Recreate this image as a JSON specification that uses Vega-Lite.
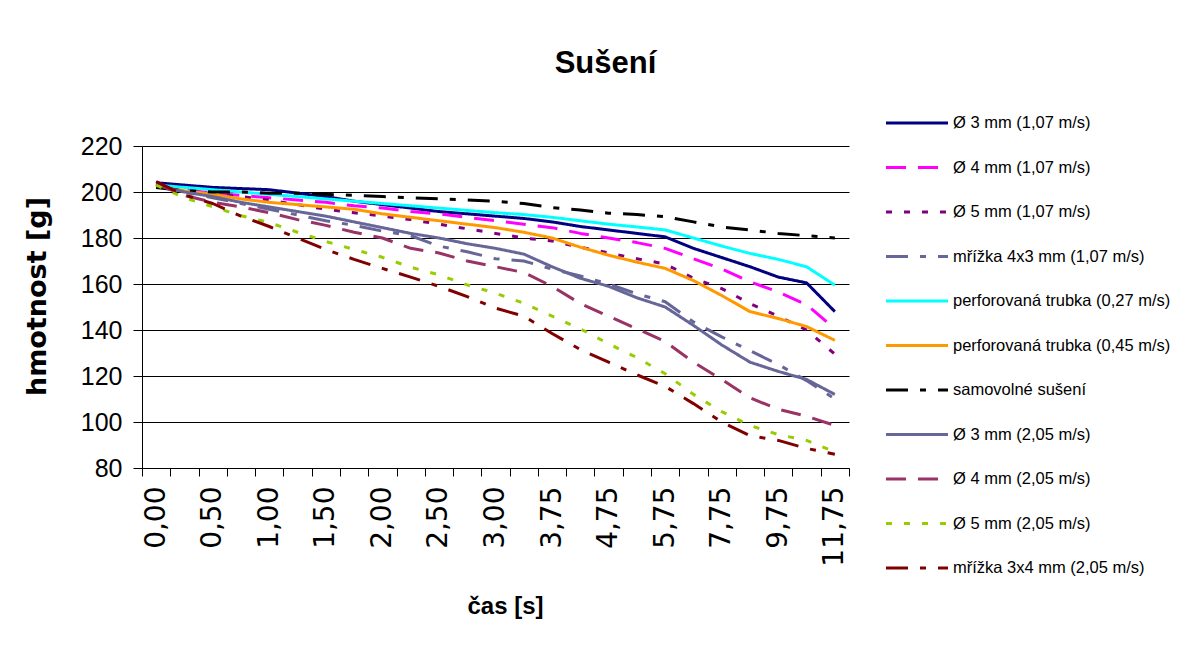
{
"$schema":"https://vega.github.io/schema/vega-lite/v6.json",
"autosize":{"type":"none"},
"width":707,"height":322,
"padding":{"left":142,"top":146,"right":339,"bottom":178},
"background":"white",
"title":{"text":"Sušení","font":"Liberation Sans","fontSize":31,"fontWeight":"bold","anchor":"middle","frame":"group","dx":110,"offset":31,"color":"#000"},
"config":{"view":{"stroke":null},
"legend":{"orient":"none","legendX":763,"legendY":-35,"title":null,"symbolType":"M-3,0H3","symbolSize":427,"symbolStrokeWidth":3,"labelFont":"Liberation Sans","labelFontSize":16.5,"labelColor":"#000","labelOffset":24,"rowPadding":23.5,"padding":0,"symbolLimit":0,"labelLimit":400}},
"data":{"values":[
{"t":"0,00","s":"Ø 3 mm (1,07 m/s)","v":204},{"t":"0,25","s":"Ø 3 mm (1,07 m/s)","v":203},{"t":"0,50","s":"Ø 3 mm (1,07 m/s)","v":202},{"t":"0,75","s":"Ø 3 mm (1,07 m/s)","v":201.5},{"t":"1,00","s":"Ø 3 mm (1,07 m/s)","v":201},{"t":"1,25","s":"Ø 3 mm (1,07 m/s)","v":199.5},{"t":"1,50","s":"Ø 3 mm (1,07 m/s)","v":198},{"t":"1,75","s":"Ø 3 mm (1,07 m/s)","v":196},{"t":"2,00","s":"Ø 3 mm (1,07 m/s)","v":194.5},{"t":"2,25","s":"Ø 3 mm (1,07 m/s)","v":193},{"t":"2,50","s":"Ø 3 mm (1,07 m/s)","v":191.5},{"t":"2,75","s":"Ø 3 mm (1,07 m/s)","v":190.5},{"t":"3,00","s":"Ø 3 mm (1,07 m/s)","v":189.5},{"t":"3,25","s":"Ø 3 mm (1,07 m/s)","v":188.5},{"t":"3,75","s":"Ø 3 mm (1,07 m/s)","v":187},{"t":"4,25","s":"Ø 3 mm (1,07 m/s)","v":185},{"t":"4,75","s":"Ø 3 mm (1,07 m/s)","v":183.5},{"t":"5,25","s":"Ø 3 mm (1,07 m/s)","v":182},{"t":"5,75","s":"Ø 3 mm (1,07 m/s)","v":180.5},{"t":"6,75","s":"Ø 3 mm (1,07 m/s)","v":175.5},{"t":"7,75","s":"Ø 3 mm (1,07 m/s)","v":171.5},{"t":"8,75","s":"Ø 3 mm (1,07 m/s)","v":167.5},{"t":"9,75","s":"Ø 3 mm (1,07 m/s)","v":163},{"t":"10,75","s":"Ø 3 mm (1,07 m/s)","v":160.5},{"t":"11,75","s":"Ø 3 mm (1,07 m/s)","v":148},
{"t":"0,00","s":"Ø 4 mm (1,07 m/s)","v":203.5},{"t":"0,25","s":"Ø 4 mm (1,07 m/s)","v":201},{"t":"0,50","s":"Ø 4 mm (1,07 m/s)","v":199.5},{"t":"0,75","s":"Ø 4 mm (1,07 m/s)","v":198.5},{"t":"1,00","s":"Ø 4 mm (1,07 m/s)","v":197.5},{"t":"1,25","s":"Ø 4 mm (1,07 m/s)","v":196.5},{"t":"1,50","s":"Ø 4 mm (1,07 m/s)","v":195.5},{"t":"1,75","s":"Ø 4 mm (1,07 m/s)","v":194},{"t":"2,00","s":"Ø 4 mm (1,07 m/s)","v":193},{"t":"2,25","s":"Ø 4 mm (1,07 m/s)","v":191.5},{"t":"2,50","s":"Ø 4 mm (1,07 m/s)","v":190.5},{"t":"2,75","s":"Ø 4 mm (1,07 m/s)","v":189},{"t":"3,00","s":"Ø 4 mm (1,07 m/s)","v":187.5},{"t":"3,25","s":"Ø 4 mm (1,07 m/s)","v":186},{"t":"3,75","s":"Ø 4 mm (1,07 m/s)","v":184.5},{"t":"4,25","s":"Ø 4 mm (1,07 m/s)","v":182},{"t":"4,75","s":"Ø 4 mm (1,07 m/s)","v":180},{"t":"5,25","s":"Ø 4 mm (1,07 m/s)","v":178},{"t":"5,75","s":"Ø 4 mm (1,07 m/s)","v":175.5},{"t":"6,75","s":"Ø 4 mm (1,07 m/s)","v":171},{"t":"7,75","s":"Ø 4 mm (1,07 m/s)","v":166.5},{"t":"8,75","s":"Ø 4 mm (1,07 m/s)","v":161},{"t":"9,75","s":"Ø 4 mm (1,07 m/s)","v":156.5},{"t":"10,75","s":"Ø 4 mm (1,07 m/s)","v":151},{"t":"11,75","s":"Ø 4 mm (1,07 m/s)","v":140.5},
{"t":"0,00","s":"Ø 5 mm (1,07 m/s)","v":204},{"t":"0,25","s":"Ø 5 mm (1,07 m/s)","v":201.5},{"t":"0,50","s":"Ø 5 mm (1,07 m/s)","v":199.5},{"t":"0,75","s":"Ø 5 mm (1,07 m/s)","v":198},{"t":"1,00","s":"Ø 5 mm (1,07 m/s)","v":196.5},{"t":"1,25","s":"Ø 5 mm (1,07 m/s)","v":194.5},{"t":"1,50","s":"Ø 5 mm (1,07 m/s)","v":192.5},{"t":"1,75","s":"Ø 5 mm (1,07 m/s)","v":191},{"t":"2,00","s":"Ø 5 mm (1,07 m/s)","v":189.5},{"t":"2,25","s":"Ø 5 mm (1,07 m/s)","v":188},{"t":"2,50","s":"Ø 5 mm (1,07 m/s)","v":186},{"t":"2,75","s":"Ø 5 mm (1,07 m/s)","v":184},{"t":"3,00","s":"Ø 5 mm (1,07 m/s)","v":182},{"t":"3,25","s":"Ø 5 mm (1,07 m/s)","v":180},{"t":"3,75","s":"Ø 5 mm (1,07 m/s)","v":178.7},{"t":"4,25","s":"Ø 5 mm (1,07 m/s)","v":176},{"t":"4,75","s":"Ø 5 mm (1,07 m/s)","v":173.5},{"t":"5,25","s":"Ø 5 mm (1,07 m/s)","v":171},{"t":"5,75","s":"Ø 5 mm (1,07 m/s)","v":168.7},{"t":"6,75","s":"Ø 5 mm (1,07 m/s)","v":162.5},{"t":"7,75","s":"Ø 5 mm (1,07 m/s)","v":158},{"t":"8,75","s":"Ø 5 mm (1,07 m/s)","v":151.5},{"t":"9,75","s":"Ø 5 mm (1,07 m/s)","v":146},{"t":"10,75","s":"Ø 5 mm (1,07 m/s)","v":140},{"t":"11,75","s":"Ø 5 mm (1,07 m/s)","v":129.5},
{"t":"0,00","s":"mřížka 4x3 mm (1,07 m/s)","v":203.5},{"t":"0,25","s":"mřížka 4x3 mm (1,07 m/s)","v":200},{"t":"0,50","s":"mřížka 4x3 mm (1,07 m/s)","v":197.5},{"t":"0,75","s":"mřížka 4x3 mm (1,07 m/s)","v":195},{"t":"1,00","s":"mřížka 4x3 mm (1,07 m/s)","v":192.5},{"t":"1,25","s":"mřížka 4x3 mm (1,07 m/s)","v":190},{"t":"1,50","s":"mřížka 4x3 mm (1,07 m/s)","v":187.5},{"t":"1,75","s":"mřížka 4x3 mm (1,07 m/s)","v":185.5},{"t":"2,00","s":"mřížka 4x3 mm (1,07 m/s)","v":183},{"t":"2,25","s":"mřížka 4x3 mm (1,07 m/s)","v":181},{"t":"2,50","s":"mřížka 4x3 mm (1,07 m/s)","v":176.5},{"t":"2,75","s":"mřížka 4x3 mm (1,07 m/s)","v":174},{"t":"3,00","s":"mřížka 4x3 mm (1,07 m/s)","v":171},{"t":"3,25","s":"mřížka 4x3 mm (1,07 m/s)","v":170},{"t":"3,75","s":"mřížka 4x3 mm (1,07 m/s)","v":166.5},{"t":"4,25","s":"mřížka 4x3 mm (1,07 m/s)","v":163.5},{"t":"4,75","s":"mřížka 4x3 mm (1,07 m/s)","v":160},{"t":"5,25","s":"mřížka 4x3 mm (1,07 m/s)","v":155.7},{"t":"5,75","s":"mřížka 4x3 mm (1,07 m/s)","v":152.3},{"t":"6,75","s":"mřížka 4x3 mm (1,07 m/s)","v":143.5},{"t":"7,75","s":"mřížka 4x3 mm (1,07 m/s)","v":137},{"t":"8,75","s":"mřížka 4x3 mm (1,07 m/s)","v":131},{"t":"9,75","s":"mřížka 4x3 mm (1,07 m/s)","v":125},{"t":"10,75","s":"mřížka 4x3 mm (1,07 m/s)","v":118},{"t":"11,75","s":"mřížka 4x3 mm (1,07 m/s)","v":110},
{"t":"0,00","s":"perforovaná trubka (0,27 m/s)","v":203},{"t":"0,25","s":"perforovaná trubka (0,27 m/s)","v":202},{"t":"0,50","s":"perforovaná trubka (0,27 m/s)","v":201},{"t":"0,75","s":"perforovaná trubka (0,27 m/s)","v":200},{"t":"1,00","s":"perforovaná trubka (0,27 m/s)","v":199},{"t":"1,25","s":"perforovaná trubka (0,27 m/s)","v":198},{"t":"1,50","s":"perforovaná trubka (0,27 m/s)","v":197},{"t":"1,75","s":"perforovaná trubka (0,27 m/s)","v":196},{"t":"2,00","s":"perforovaná trubka (0,27 m/s)","v":195},{"t":"2,25","s":"perforovaná trubka (0,27 m/s)","v":194},{"t":"2,50","s":"perforovaná trubka (0,27 m/s)","v":193},{"t":"2,75","s":"perforovaná trubka (0,27 m/s)","v":192},{"t":"3,00","s":"perforovaná trubka (0,27 m/s)","v":191},{"t":"3,25","s":"perforovaná trubka (0,27 m/s)","v":190.2},{"t":"3,75","s":"perforovaná trubka (0,27 m/s)","v":189},{"t":"4,25","s":"perforovaná trubka (0,27 m/s)","v":187.5},{"t":"4,75","s":"perforovaná trubka (0,27 m/s)","v":186},{"t":"5,25","s":"perforovaná trubka (0,27 m/s)","v":184.8},{"t":"5,75","s":"perforovaná trubka (0,27 m/s)","v":183.5},{"t":"6,75","s":"perforovaná trubka (0,27 m/s)","v":180},{"t":"7,75","s":"perforovaná trubka (0,27 m/s)","v":176.5},{"t":"8,75","s":"perforovaná trubka (0,27 m/s)","v":173.3},{"t":"9,75","s":"perforovaná trubka (0,27 m/s)","v":170.7},{"t":"10,75","s":"perforovaná trubka (0,27 m/s)","v":167.5},{"t":"11,75","s":"perforovaná trubka (0,27 m/s)","v":159.5},
{"t":"0,00","s":"perforovaná trubka (0,45 m/s)","v":202.5},{"t":"0,25","s":"perforovaná trubka (0,45 m/s)","v":200.5},{"t":"0,50","s":"perforovaná trubka (0,45 m/s)","v":199},{"t":"0,75","s":"perforovaná trubka (0,45 m/s)","v":197},{"t":"1,00","s":"perforovaná trubka (0,45 m/s)","v":195.5},{"t":"1,25","s":"perforovaná trubka (0,45 m/s)","v":194.5},{"t":"1,50","s":"perforovaná trubka (0,45 m/s)","v":193.5},{"t":"1,75","s":"perforovaná trubka (0,45 m/s)","v":192.5},{"t":"2,00","s":"perforovaná trubka (0,45 m/s)","v":190.5},{"t":"2,25","s":"perforovaná trubka (0,45 m/s)","v":189},{"t":"2,50","s":"perforovaná trubka (0,45 m/s)","v":187.5},{"t":"2,75","s":"perforovaná trubka (0,45 m/s)","v":186},{"t":"3,00","s":"perforovaná trubka (0,45 m/s)","v":184.5},{"t":"3,25","s":"perforovaná trubka (0,45 m/s)","v":182.5},{"t":"3,75","s":"perforovaná trubka (0,45 m/s)","v":180},{"t":"4,25","s":"perforovaná trubka (0,45 m/s)","v":176},{"t":"4,75","s":"perforovaná trubka (0,45 m/s)","v":172.5},{"t":"5,25","s":"perforovaná trubka (0,45 m/s)","v":169.5},{"t":"5,75","s":"perforovaná trubka (0,45 m/s)","v":166.8},{"t":"6,75","s":"perforovaná trubka (0,45 m/s)","v":161.5},{"t":"7,75","s":"perforovaná trubka (0,45 m/s)","v":155},{"t":"8,75","s":"perforovaná trubka (0,45 m/s)","v":148},{"t":"9,75","s":"perforovaná trubka (0,45 m/s)","v":145},{"t":"10,75","s":"perforovaná trubka (0,45 m/s)","v":141.5},{"t":"11,75","s":"perforovaná trubka (0,45 m/s)","v":135.5},
{"t":"0,00","s":"samovolné sušení","v":202},{"t":"0,25","s":"samovolné sušení","v":200.5},{"t":"0,50","s":"samovolné sušení","v":200},{"t":"0,75","s":"samovolné sušení","v":200},{"t":"1,00","s":"samovolné sušení","v":199.5},{"t":"1,25","s":"samovolné sušení","v":199.5},{"t":"1,50","s":"samovolné sušení","v":199},{"t":"1,75","s":"samovolné sušení","v":198.5},{"t":"2,00","s":"samovolné sušení","v":198},{"t":"2,25","s":"samovolné sušení","v":197.5},{"t":"2,50","s":"samovolné sušení","v":197},{"t":"2,75","s":"samovolné sušení","v":196.5},{"t":"3,00","s":"samovolné sušení","v":196},{"t":"3,25","s":"samovolné sušení","v":195},{"t":"3,75","s":"samovolné sušení","v":193.2},{"t":"4,25","s":"samovolné sušení","v":192.2},{"t":"4,75","s":"samovolné sušení","v":190.8},{"t":"5,25","s":"samovolné sušení","v":190.2},{"t":"5,75","s":"samovolné sušení","v":189.3},{"t":"6,75","s":"samovolné sušení","v":187},{"t":"7,75","s":"samovolné sušení","v":184.8},{"t":"8,75","s":"samovolné sušení","v":183.5},{"t":"9,75","s":"samovolné sušení","v":182},{"t":"10,75","s":"samovolné sušení","v":181},{"t":"11,75","s":"samovolné sušení","v":180},
{"t":"0,00","s":"Ø 3 mm (2,05 m/s)","v":203},{"t":"0,25","s":"Ø 3 mm (2,05 m/s)","v":200},{"t":"0,50","s":"Ø 3 mm (2,05 m/s)","v":198},{"t":"0,75","s":"Ø 3 mm (2,05 m/s)","v":195.5},{"t":"1,00","s":"Ø 3 mm (2,05 m/s)","v":193.5},{"t":"1,25","s":"Ø 3 mm (2,05 m/s)","v":191.5},{"t":"1,50","s":"Ø 3 mm (2,05 m/s)","v":189.5},{"t":"1,75","s":"Ø 3 mm (2,05 m/s)","v":187},{"t":"2,00","s":"Ø 3 mm (2,05 m/s)","v":184.5},{"t":"2,25","s":"Ø 3 mm (2,05 m/s)","v":182},{"t":"2,50","s":"Ø 3 mm (2,05 m/s)","v":180},{"t":"2,75","s":"Ø 3 mm (2,05 m/s)","v":177.5},{"t":"3,00","s":"Ø 3 mm (2,05 m/s)","v":175.5},{"t":"3,25","s":"Ø 3 mm (2,05 m/s)","v":173},{"t":"3,75","s":"Ø 3 mm (2,05 m/s)","v":167.5},{"t":"4,25","s":"Ø 3 mm (2,05 m/s)","v":162.5},{"t":"4,75","s":"Ø 3 mm (2,05 m/s)","v":159},{"t":"5,25","s":"Ø 3 mm (2,05 m/s)","v":154},{"t":"5,75","s":"Ø 3 mm (2,05 m/s)","v":150},{"t":"6,75","s":"Ø 3 mm (2,05 m/s)","v":142},{"t":"7,75","s":"Ø 3 mm (2,05 m/s)","v":133.5},{"t":"8,75","s":"Ø 3 mm (2,05 m/s)","v":126},{"t":"9,75","s":"Ø 3 mm (2,05 m/s)","v":122},{"t":"10,75","s":"Ø 3 mm (2,05 m/s)","v":118.5},{"t":"11,75","s":"Ø 3 mm (2,05 m/s)","v":112},
{"t":"0,00","s":"Ø 4 mm (2,05 m/s)","v":203.5},{"t":"0,25","s":"Ø 4 mm (2,05 m/s)","v":198.5},{"t":"0,50","s":"Ø 4 mm (2,05 m/s)","v":195.5},{"t":"0,75","s":"Ø 4 mm (2,05 m/s)","v":193.5},{"t":"1,00","s":"Ø 4 mm (2,05 m/s)","v":191},{"t":"1,25","s":"Ø 4 mm (2,05 m/s)","v":188},{"t":"1,50","s":"Ø 4 mm (2,05 m/s)","v":185.5},{"t":"1,75","s":"Ø 4 mm (2,05 m/s)","v":182.5},{"t":"2,00","s":"Ø 4 mm (2,05 m/s)","v":180},{"t":"2,25","s":"Ø 4 mm (2,05 m/s)","v":175.5},{"t":"2,50","s":"Ø 4 mm (2,05 m/s)","v":173.5},{"t":"2,75","s":"Ø 4 mm (2,05 m/s)","v":170},{"t":"3,00","s":"Ø 4 mm (2,05 m/s)","v":167.5},{"t":"3,25","s":"Ø 4 mm (2,05 m/s)","v":165},{"t":"3,75","s":"Ø 4 mm (2,05 m/s)","v":159},{"t":"4,25","s":"Ø 4 mm (2,05 m/s)","v":151.5},{"t":"4,75","s":"Ø 4 mm (2,05 m/s)","v":146},{"t":"5,25","s":"Ø 4 mm (2,05 m/s)","v":140.5},{"t":"5,75","s":"Ø 4 mm (2,05 m/s)","v":135},{"t":"6,75","s":"Ø 4 mm (2,05 m/s)","v":126},{"t":"7,75","s":"Ø 4 mm (2,05 m/s)","v":118.5},{"t":"8,75","s":"Ø 4 mm (2,05 m/s)","v":110.5},{"t":"9,75","s":"Ø 4 mm (2,05 m/s)","v":105.5},{"t":"10,75","s":"Ø 4 mm (2,05 m/s)","v":102.5},{"t":"11,75","s":"Ø 4 mm (2,05 m/s)","v":98.5},
{"t":"0,00","s":"Ø 5 mm (2,05 m/s)","v":203},{"t":"0,25","s":"Ø 5 mm (2,05 m/s)","v":197.5},{"t":"0,50","s":"Ø 5 mm (2,05 m/s)","v":193.6},{"t":"0,75","s":"Ø 5 mm (2,05 m/s)","v":189.7},{"t":"1,00","s":"Ø 5 mm (2,05 m/s)","v":186.7},{"t":"1,25","s":"Ø 5 mm (2,05 m/s)","v":182.5},{"t":"1,50","s":"Ø 5 mm (2,05 m/s)","v":178.5},{"t":"1,75","s":"Ø 5 mm (2,05 m/s)","v":175},{"t":"2,00","s":"Ø 5 mm (2,05 m/s)","v":171.6},{"t":"2,25","s":"Ø 5 mm (2,05 m/s)","v":167.3},{"t":"2,50","s":"Ø 5 mm (2,05 m/s)","v":164},{"t":"2,75","s":"Ø 5 mm (2,05 m/s)","v":159.6},{"t":"3,00","s":"Ø 5 mm (2,05 m/s)","v":156},{"t":"3,25","s":"Ø 5 mm (2,05 m/s)","v":151.6},{"t":"3,75","s":"Ø 5 mm (2,05 m/s)","v":146},{"t":"4,25","s":"Ø 5 mm (2,05 m/s)","v":140.5},{"t":"4,75","s":"Ø 5 mm (2,05 m/s)","v":134},{"t":"5,25","s":"Ø 5 mm (2,05 m/s)","v":128},{"t":"5,75","s":"Ø 5 mm (2,05 m/s)","v":121},{"t":"6,75","s":"Ø 5 mm (2,05 m/s)","v":112},{"t":"7,75","s":"Ø 5 mm (2,05 m/s)","v":104.5},{"t":"8,75","s":"Ø 5 mm (2,05 m/s)","v":98.5},{"t":"9,75","s":"Ø 5 mm (2,05 m/s)","v":94.5},{"t":"10,75","s":"Ø 5 mm (2,05 m/s)","v":92},{"t":"11,75","s":"Ø 5 mm (2,05 m/s)","v":87},
{"t":"0,00","s":"mřížka 3x4 mm (2,05 m/s)","v":204.5},{"t":"0,25","s":"mřížka 3x4 mm (2,05 m/s)","v":198.7},{"t":"0,50","s":"mřížka 3x4 mm (2,05 m/s)","v":195},{"t":"0,75","s":"mřížka 3x4 mm (2,05 m/s)","v":189.5},{"t":"1,00","s":"mřížka 3x4 mm (2,05 m/s)","v":185},{"t":"1,25","s":"mřížka 3x4 mm (2,05 m/s)","v":180},{"t":"1,50","s":"mřížka 3x4 mm (2,05 m/s)","v":175},{"t":"1,75","s":"mřížka 3x4 mm (2,05 m/s)","v":170.7},{"t":"2,00","s":"mřížka 3x4 mm (2,05 m/s)","v":166.8},{"t":"2,25","s":"mřížka 3x4 mm (2,05 m/s)","v":163},{"t":"2,50","s":"mřížka 3x4 mm (2,05 m/s)","v":159},{"t":"2,75","s":"mřížka 3x4 mm (2,05 m/s)","v":154.5},{"t":"3,00","s":"mřížka 3x4 mm (2,05 m/s)","v":149.5},{"t":"3,25","s":"mřížka 3x4 mm (2,05 m/s)","v":146},{"t":"3,75","s":"mřížka 3x4 mm (2,05 m/s)","v":138.5},{"t":"4,25","s":"mřížka 3x4 mm (2,05 m/s)","v":131.5},{"t":"4,75","s":"mřížka 3x4 mm (2,05 m/s)","v":126},{"t":"5,25","s":"mřížka 3x4 mm (2,05 m/s)","v":120.5},{"t":"5,75","s":"mřížka 3x4 mm (2,05 m/s)","v":115.5},{"t":"6,75","s":"mřížka 3x4 mm (2,05 m/s)","v":108},{"t":"7,75","s":"mřížka 3x4 mm (2,05 m/s)","v":100},{"t":"8,75","s":"mřížka 3x4 mm (2,05 m/s)","v":94},{"t":"9,75","s":"mřížka 3x4 mm (2,05 m/s)","v":92},{"t":"10,75","s":"mřížka 3x4 mm (2,05 m/s)","v":88.5},{"t":"11,75","s":"mřížka 3x4 mm (2,05 m/s)","v":86}
]},
"mark":{"type":"line","strokeWidth":3,"strokeCap":"butt","strokeJoin":"round"},
"encoding":{
"x":{"field":"t","type":"ordinal","sort":null,"bandPosition":0.5,"scale":{"type":"band","paddingInner":0,"paddingOuter":0},
 "axis":{"title":"čas [s]","titleFont":"Liberation Sans","titleFontSize":24,"titleFontWeight":"bold","titleColor":"#000","titleX":363,"titleY":145,"titleBaseline":"alphabetic","titleAlign":"center",
  "tickBand":"extent","tickSize":8,"tickColor":"#000","tickWidth":1,"domainColor":"#000","domainWidth":1,"grid":false,
  "labelAngle":-90,"labelAlign":"right","labelBaseline":"middle","labelFont":"DejaVu Sans","labelFontSize":28,"labelColor":"#000","labelPadding":10,"labelOverlap":false,"labelBound":false,
  "labelExpr":"indexof(['0,00','0,50','1,00','1,50','2,00','2,50','3,00','3,75','4,75','5,75','7,75','9,75','11,75'], datum.value) >= 0 ? datum.label : ''"}},
"y":{"field":"v","type":"quantitative","scale":{"domain":[80,220],"nice":false,"zero":false},
 "axis":{"values":[80,100,120,140,160,180,200,220],"title":"hmotnost [g]","titleFont":"DejaVu Sans","titleFontSize":27,"titleFontWeight":"bold","titleColor":"#000","titleX":-105,"titleY":150,"titleAngle":-90,"titleBaseline":"middle","titleAlign":"center",
  "grid":true,"gridColor":"#000","gridWidth":1,"gridOpacity":1,"tickSize":9,"tickColor":"#000","domainColor":"#000","domainWidth":1,
  "labelFont":"Liberation Sans","labelFontSize":25,"labelColor":"#000","labelPadding":11}},
"color":{"field":"s","type":"nominal","scale":{"domain":["Ø 3 mm (1,07 m/s)","Ø 4 mm (1,07 m/s)","Ø 5 mm (1,07 m/s)","mřížka 4x3 mm (1,07 m/s)","perforovaná trubka (0,27 m/s)","perforovaná trubka (0,45 m/s)","samovolné sušení","Ø 3 mm (2,05 m/s)","Ø 4 mm (2,05 m/s)","Ø 5 mm (2,05 m/s)","mřížka 3x4 mm (2,05 m/s)"],
  "range":["#000080","#FF00FF","#800080","#666699","#00FFFF","#FF9900","#000000","#666699","#993366","#99CC00","#800000"]}},
"strokeDash":{"field":"s","type":"nominal","scale":{"domain":["Ø 3 mm (1,07 m/s)","Ø 4 mm (1,07 m/s)","Ø 5 mm (1,07 m/s)","mřížka 4x3 mm (1,07 m/s)","perforovaná trubka (0,27 m/s)","perforovaná trubka (0,45 m/s)","samovolné sušení","Ø 3 mm (2,05 m/s)","Ø 4 mm (2,05 m/s)","Ø 5 mm (2,05 m/s)","mřížka 3x4 mm (2,05 m/s)"],
  "range":[[1,0],[20,12],[6,12],[22,12,6,12],[1,0],[1,0],[22,12,6,12],[1,0],[20,12],[6,12],[22,12,6,12]]}}
}
}
